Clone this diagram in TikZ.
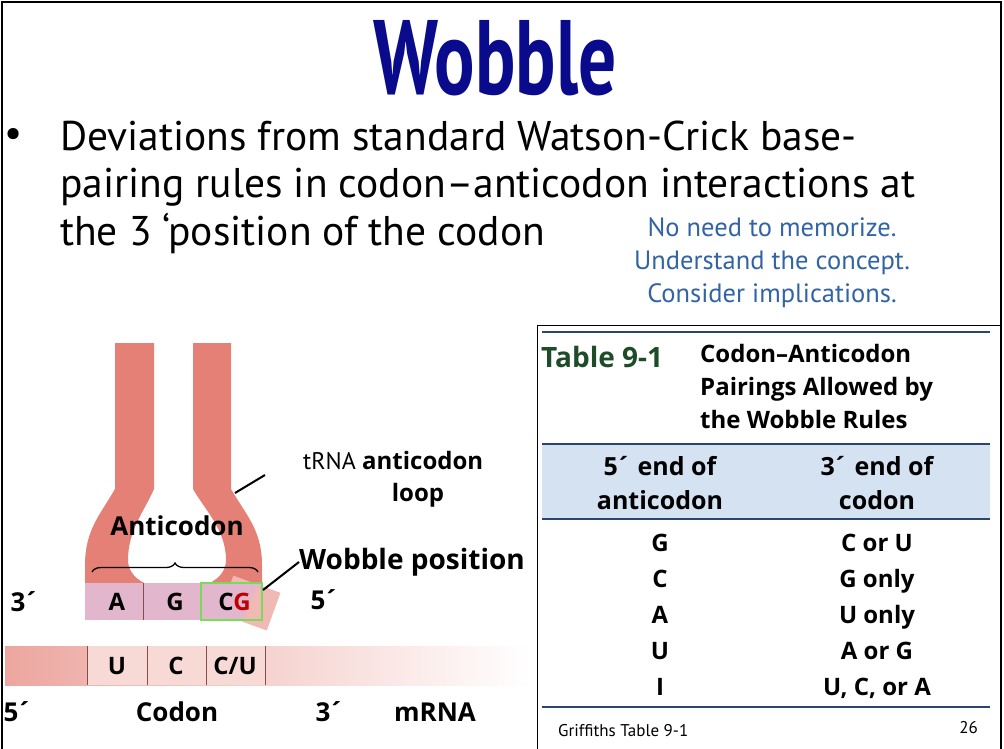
\documentclass[tikz,border=0pt]{standalone}
\usepackage{fontspec}
\setmainfont{PT Sans}
\newfontfamily\tabfont{Open Sans}
\usetikzlibrary{decorations.pathreplacing}
\definecolor{navy}{RGB}{10,10,140}
\definecolor{noteblue}{RGB}{50,100,165}
\definecolor{salmon}{RGB}{228,128,118}
\definecolor{lav}{RGB}{226,182,204}
\definecolor{rulec}{RGB}{40,70,110}
\definecolor{band}{RGB}{212,226,242}
\definecolor{tgreen}{RGB}{30,75,40}
\definecolor{wgreen}{RGB}{120,220,90}
\newcommand{\pr}{\kern-2pt´}
\tikzset{
  body/.style={anchor=base west,font=\fontsize{41.5}{44}\selectfont,inner sep=0},
  note/.style={text=noteblue,font=\fontsize{26.5}{33}\selectfont,align=center,inner sep=0},
  tb/.style={font=\tabfont\bfseries\fontsize{24}{33}\selectfont,inner sep=0},
  rowt/.style={tb,anchor=base},
  lab/.style={font=\tabfont\bfseries\fontsize{26}{30}\selectfont,inner sep=0},
  base/.style={font=\tabfont\bfseries\fontsize{24}{28}\selectfont,inner sep=0},
  trule/.style={rulec,line width=2.5pt},
}
\begin{document}
\begin{tikzpicture}[x=1pt,y=-1pt]
\useasboundingbox (0,0) rectangle (1004,748);
\draw[line width=2pt] (2,2) rectangle (1001,760);
% title
\node (title) at (495,58) {\bfseries\color{navy}\fontsize{92}{92}\selectfont\scalebox{0.82}[1.15]{Wobble}};
\node (bul) at (14,137) {\fontsize{40}{40}\selectfont •};
\node[body] (l1) at (60,150) {Deviations from standard Watson-Crick base-};
\node[body] (l2) at (60,197) {pairing rules in codon–anticodon interactions at};
\node[body] (l3) at (60,245) {the 3 ‘position of the codon};
\node[note] (nt) at (772,263) {No need to memorize.\\Understand the concept.\\Consider implications.};
% table
\draw[line width=1pt] (537,325) -- (537,760);
\draw[line width=1pt] (537,325) -- (1001,325);
\fill[band] (542,444) rectangle (990,519);
\draw[trule] (542,332) -- (990,332);
\draw[trule] (542,444) -- (990,444);
\draw[trule] (542,519) -- (990,519);
\draw[trule] (542,707) -- (990,707);
\node[anchor=base west,inner sep=0,text=tgreen,font=\tabfont\bfseries\fontsize{28}{30}\selectfont] (t91) at (541,367) {Table 9-1};
\node[tb,anchor=north west,align=left] (tt) at (700,344) {Codon–Anticodon\\Pairings Allowed by\\the Wobble Rules};
\node[tb,align=center,font=\tabfont\bfseries\fontsize{25}{34}\selectfont] (h1) at (660,483) {5\pr{} end of\\anticodon};
\node[tb,align=center,font=\tabfont\bfseries\fontsize{25}{34}\selectfont] (h2) at (877,483) {3\pr{} end of\\codon};
\foreach \a/\b/\y [count=\i] in {G/C or U/551,C/G only/587,A/U only/623,U/A or G/659,I/{U, C, or A}/695}{
  \node[rowt] (ra\i) at (660,\y) {\a};
  \node[rowt] (rb\i) at (877,\y) {\b};
}
\node[anchor=west,font=\fontsize{17}{20}\selectfont,inner sep=0] (grif) at (558,731) {Griffiths Table 9-1};
\node[anchor=east,font=\fontsize{17}{20}\selectfont,inner sep=0] (pg) at (978,728) {26};
% mRNA
\shade[left color=salmon!70,right color=white] (5,646) rectangle (530,685);
\fill[salmon!30] (87,646) rectangle (265,685);
\foreach \x in {87,147,206,265} \draw[salmon!60!black,line width=0.8pt] (\x,646) -- (\x,685);
\node[base] (u) at (117,666) {U};
\node[base] (c) at (176,666) {C};
\node[base] (cu) at (235,666) {C/U};
% tRNA
\fill[salmon,even odd rule]
  (115,343) -- (115,489) .. controls (100,515) and (85,530) .. (85,565) -- (85,590) -- (262,590) -- (262,565)
  .. controls (262,530) and (246,515) .. (231,489) -- (231,343) -- (193,343) -- (193,489)
  .. controls (205,510) and (226,530) .. (226,560) .. controls (226,600) and (128,600) .. (128,560)
  .. controls (128,530) and (145,510) .. (154,489) -- (154,343) -- cycle;
\node[lab] (antic) at (177,526) {Anticodon};
\draw[line width=1.3pt,decorate,decoration={brace,amplitude=9pt}] (92,572) -- (258,572);
\fill[salmon!55,rotate around={-20:(250,603)}] (225,583) rectangle (275,623);
\fill[lav] (85,583) rectangle (262,620);
\foreach \x in {143,201} \draw[salmon!60!black,line width=0.6pt] (\x,583) -- (\x,620);
\fill[salmon!55,rotate around={-20:(250,603)}] (250,586) rectangle (275,623);
\draw[wgreen,line width=2.5pt] (201,583) rectangle (262,620);
\node[base] (a) at (117,602) {A};
\node[base] (g) at (175,602) {G};
\node[base] (cg) at (226,602) {C};
\node[base,text=red!75!black] (rg) at (242,602) {G};
\node[lab] (l3p) at (25,602) {3\pr};
\node[lab] (r5p) at (325,600) {5\pr};
\node[lab,anchor=west,font=\tabfont\bfseries\fontsize{28}{30}\selectfont] (wob) at (299,562) {Wobble position};
\draw[line width=2pt] (263,590) -- (wob.west);
\node[anchor=base west,inner sep=0,font=\fontsize{24}{28}\selectfont] (trna) at (303,469) {tRNA \tabfont\bfseries anticodon};
\node[anchor=base,inner sep=0,font=\tabfont\bfseries\fontsize{24}{28}\selectfont] (loop) at (418,501) {loop};
\coordinate (lp) at (235,493);
\draw[line width=2pt] (lp) -- (265,475);
\node[lab] (b5) at (18,712) {5\pr};
\node[lab] (cod) at (177,712) {Codon};
\node[lab] (b3) at (330,712) {3\pr};
\node[lab] (mr) at (435,712) {mRNA};
\end{tikzpicture}
\end{document}
